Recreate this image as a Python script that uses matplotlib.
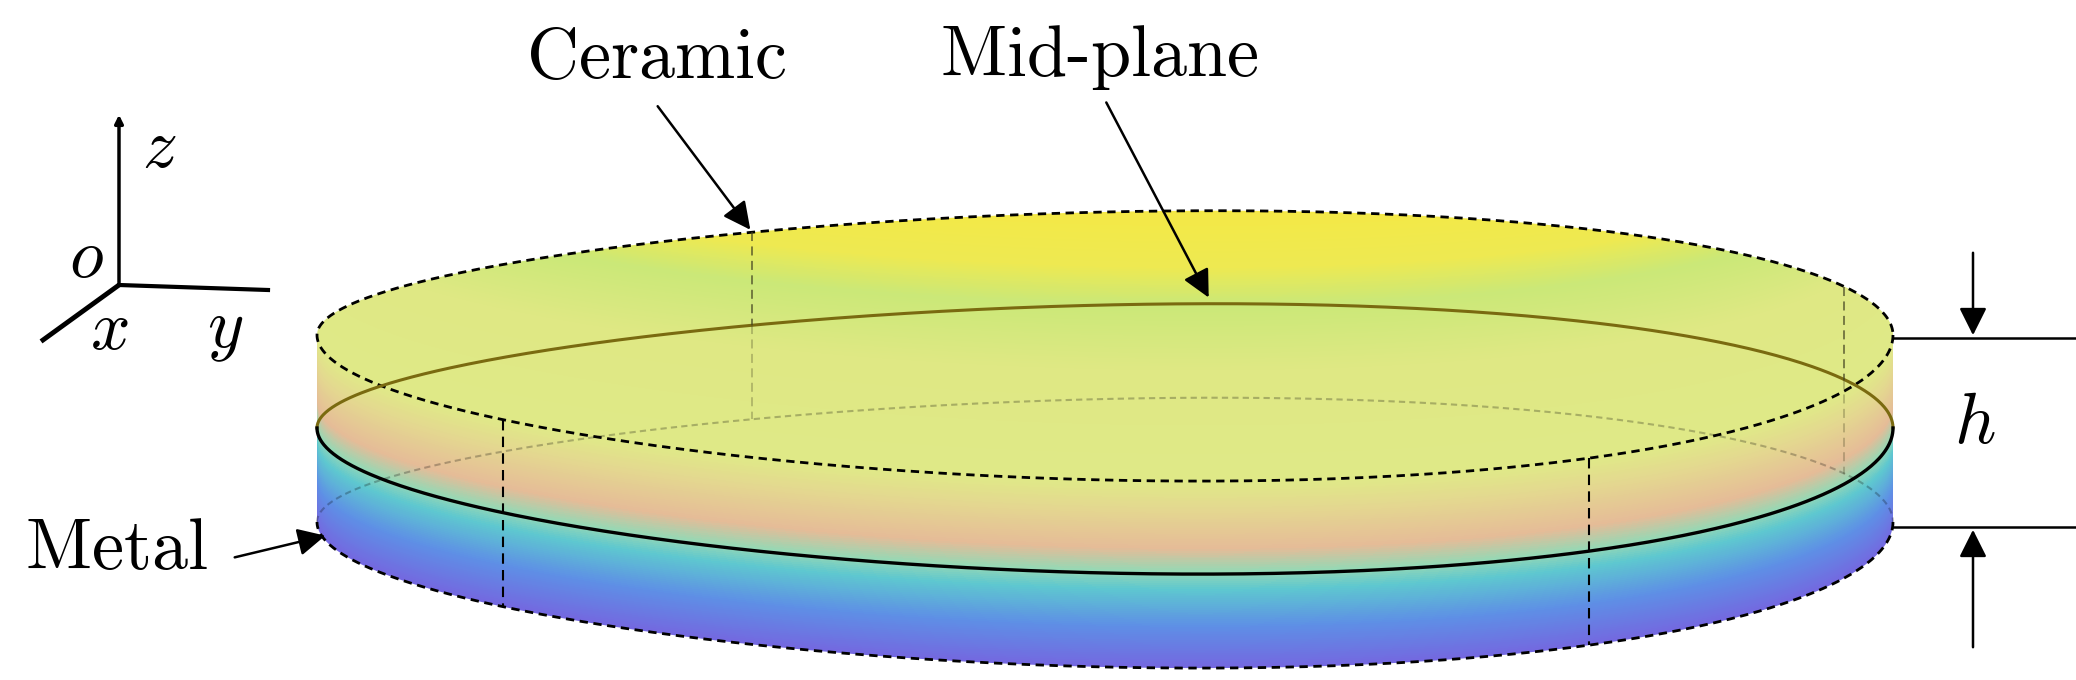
import numpy as np
import matplotlib.pyplot as plt
from matplotlib.colors import LinearSegmentedColormap
from matplotlib.patches import Polygon

plt.rcParams['mathtext.fontset'] = 'cm'

# disk geometry in picture pixels (y grows downward)
cx, a = 1105, 788
y_top, y_mid, y_bot = 335, 428, 522
b_front, b_back, skew = 145, 123, 18

# angles (cos t) of the dashed vertical generators
gen_front = [-0.764, 0.614]
gen_back = [-0.448, 0.938]

# colour ramp along height fraction (0 bottom front edge ... top back edge)
ramp_pos = [0.0, 0.22, 0.42, 0.52, 0.64, 0.85, 1.0, 1.6, 1.95, 2.15, 2.6]
ramp_col = ['#7468e0', '#5f8fe6', '#5ec8d0', '#98d8b4', '#e6bc98', '#e4d890',
            '#e0ea88', '#dfe884', '#cbe878', '#eeea52', '#f8e840']
H = y_bot - y_top


def ellipse(ye, t):
    s, c = np.sin(t), np.cos(t)
    b = np.where(s > 0, b_front, b_back)
    return cx + a * c, ye + b * s + skew * s * c


def t_from_cos(c, front):
    t = np.arccos(c)
    return t if front else -t


fig = plt.figure(figsize=(20.76, 6.8), dpi=100)
ax = fig.add_axes([0, 0, 1, 1])
ax.set_xlim(0, 2076)
ax.set_ylim(680, 0)
ax.axis('off')

# gradient body
tf = np.linspace(0, np.pi, 400)
tb = np.linspace(np.pi, 2 * np.pi, 400)
xb, yb = ellipse(y_bot, tf)
order = np.argsort(xb)
xs, ys = xb[order], yb[order]
X, Y = np.meshgrid(np.arange(300, 1910), np.arange(190, 680))
Z = (np.interp(X, xs, ys) - Y) / H
cmap = LinearSegmentedColormap.from_list(
    'disk', list(zip(np.array(ramp_pos) / ramp_pos[-1], ramp_col)))
img = ax.imshow(Z / ramp_pos[-1], cmap=cmap, vmin=0, vmax=1,
                extent=(300, 1910, 680, 190), origin='upper', zorder=1)
xt, yt = ellipse(y_top, tb)
xbf, ybf = ellipse(y_bot, tf)
outline = np.vstack([np.column_stack([xt, yt]), np.column_stack([xbf, ybf])])
clip = Polygon(outline, closed=True, transform=ax.transData)
img.set_clip_path(clip)

t_all = np.linspace(0, 2 * np.pi, 800)
# top ellipse
x, y = ellipse(y_top, t_all)
ax.plot(x, y, color='black', lw=2, ls=(0, (3, 2)), zorder=3)
# mid-plane
x, y = ellipse(y_mid, tb)
ax.plot(x, y, color='#7a6a10', lw=2.2, zorder=3)
x, y = ellipse(y_mid, tf)
ax.plot(x, y, color='black', lw=2.4, zorder=3)
# bottom ellipse
x, y = ellipse(y_bot, tf)
ax.plot(x, y, color='black', lw=2, ls=(0, (3, 2)), zorder=3)
x, y = ellipse(y_bot, tb)
ax.plot(x, y, color='black', lw=1.5, ls=(0, (3, 2)), alpha=0.25, zorder=3)

# dashed vertical generators
for c in gen_front:
    t = t_from_cos(c, True)
    x0, y0 = ellipse(y_top, t)
    x1, y1 = ellipse(y_bot, t)
    ax.plot([x0, x1], [y0, y1], color='black', lw=1.5, ls=(0, (5, 3)), zorder=3)
for c in gen_back:
    t = t_from_cos(c, False)
    x0, y0 = ellipse(y_top, t)
    x1, y1 = ellipse(y_bot, t)
    xm, ym = ellipse(y_mid, t)
    ax.plot([x0, xm], [y0, ym], color='#404020', lw=1.3, ls=(0, (5, 3)), alpha=0.7, zorder=3)
    ax.plot([xm, x1], [ym, y1], color='#404020', lw=1.3, ls=(0, (5, 3)), alpha=0.3, zorder=3)

# labels with arrows
arr = dict(arrowstyle='-|>', color='black', lw=1.8, mutation_scale=42)
ax.text(656, 58, r'$\mathrm{Ceramic}$', fontsize=52, ha='center', va='center')
ax.annotate('', xy=(752, 232), xytext=(656, 104), arrowprops=arr)
ax.text(1099, 58, r'$\mathrm{Mid\text{-}plane}$', fontsize=52, ha='center', va='center')
ax.annotate('', xy=(1210, 300), xytext=(1105, 100), arrowprops=arr)
ax.text(116, 550, r'$\mathrm{Metal}$', fontsize=52, ha='center', va='center')
ax.annotate('', xy=(328, 535), xytext=(232, 558), arrowprops=arr)

# coordinate triad
ax.annotate('', xy=(119, 112), xytext=(119, 285),
            arrowprops=dict(arrowstyle='-|>', color='black', lw=2.5, mutation_scale=12))
ax.plot([119, 268], [285, 290], color='black', lw=3)
ax.plot([119, 43], [285, 340], color='black', lw=3.5)
ax.text(159, 147, r'$z$', fontsize=50, ha='center', va='center')
ax.text(86, 258, r'$o$', fontsize=50, ha='center', va='center')
ax.text(109, 330, r'$x$', fontsize=50, ha='center', va='center')
ax.text(225, 330, r'$y$', fontsize=50, ha='center', va='center')

# thickness marker
ax.plot([1893, 2076], [338, 338], color='black', lw=1.8)
ax.plot([1893, 2076], [527, 527], color='black', lw=1.8)
ax.annotate('', xy=(1973, 338), xytext=(1973, 250), arrowprops=arr)
ax.annotate('', xy=(1973, 527), xytext=(1973, 650), arrowprops=arr)
ax.text(1975, 424, r'$h$', fontsize=52, ha='center', va='center')

fig.savefig('out.png', dpi=100)
